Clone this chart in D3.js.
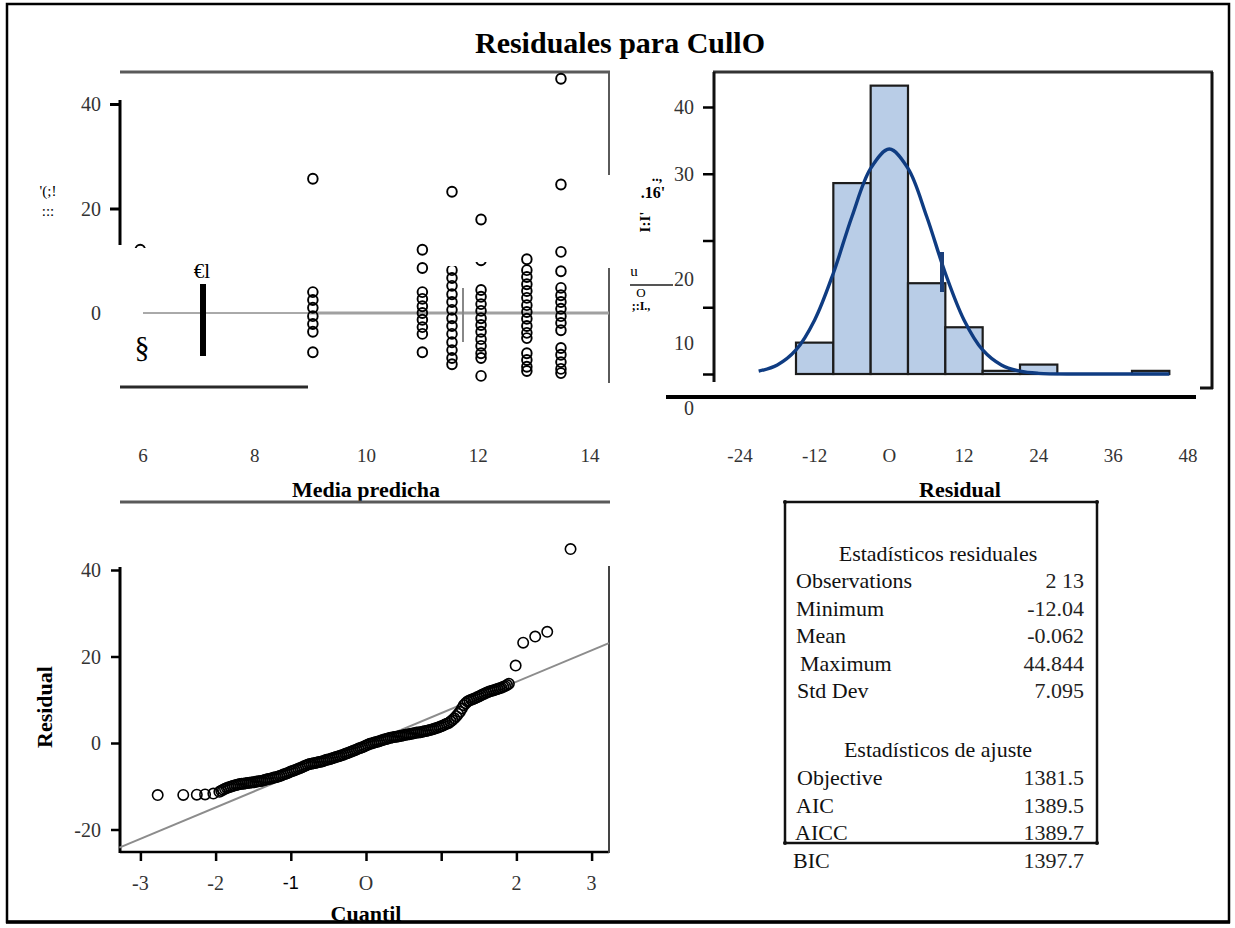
<!DOCTYPE html>
<html>
<head>
<meta charset="utf-8">
<script src="https://cdn.jsdelivr.net/npm/d3@7"></script>
<style>
  html, body { margin: 0; padding: 0; background: #fff; }
  svg { display: block; font-family: "Liberation Serif", "Times New Roman", serif; }
</style>
</head>
<body>
<svg id="chart" width="1235" height="928"></svg>
<script>
// ---------------- data ----------------
const chartTitle = "Residuales para CullO";

// Residual vs predicted mean: one predicted mean per column of points
const predictedMeans = [5.95, 9.04, 11.0, 11.53, 12.05, 12.87, 13.48];
const residualsByMean = [
  [12.1],
  [25.7, 4.0, 2.5, 1.0, -0.6, -2.1, -3.6, -7.5],
  [12.1, 8.6, 4.0, 2.7, 1.3, 0.0, -1.3, -2.7, -4.0, -7.5],
  [23.2, 8.2, 6.7, 5.2, 3.6, 2.1, 0.6, -1.0, -2.5, -4.0, -5.6, -7.1, -8.6, -9.8],
  [17.9, 10.1, 4.4, 3.1, 1.7, 0.4, -1.0, -2.3, -3.6, -5.0, -6.3, -7.7, -8.6, -12.04],
  [10.3, 8.2, 6.9, 5.5, 4.2, 2.9, 1.5, 0.2, -1.1, -2.5, -3.8, -4.8, -7.7, -9.0, -10.3, -11.1],
  [44.844, 24.6, 11.7, 8.0, 4.8, 3.4, 2.1, 0.8, -0.6, -1.9, -3.3, -6.7, -8.0, -9.4, -10.7, -11.5]
];
const scatterXTicks = [6, 8, 10, 12, 14];
const scatterYTicks = [40, 20, 0];

// Histogram of residuals (percent per bin of width 6)
const binStart = [-15, -9, -3, 3, 9, 15, 21, 27, 33, 39];
const binWidth = 6;
const binPercent = [4.7, 28.6, 43.2, 13.6, 7.0, 0.47, 1.41, 0, 0, 0.47];
const histXTicks = [-24, -12, 0, 12, 24, 36, 48];
const histXTickLabels = ["-24", "-12", "O", "12", "24", "36", "48"];
const histYTicks = [40, 30, 20, 10, 0];
// Fitted normal density overlay (percent)
const densityX = [-21, -18, -15, -12, -9, -6, -3, 0, 3, 6, 9, 12, 15, 18, 21, 24, 30, 36, 42, 45];
const densityY = [0.42, 1.35, 3.6, 8.1, 15.1, 23.6, 30.8, 33.7, 30.8, 23.6, 15.1, 8.1, 3.6, 1.35, 0.42, 0.1, 0, 0, 0, 0];

// Normal quantile plot: (normal quantile, residual) pairs
const qqQuantile = [
  -2.77, -2.43, -2.25, -2.14, -2.03,
  -1.95, -1.90, -1.85, -1.80, -1.75, -1.70, -1.65, -1.60, -1.55, -1.50,
  -1.45, -1.40, -1.35, -1.30, -1.25, -1.20, -1.15, -1.10, -1.05, -1.00,
  -0.95, -0.90, -0.85, -0.80, -0.75, -0.70, -0.65, -0.60, -0.55, -0.50,
  -0.45, -0.40, -0.35, -0.30, -0.25, -0.20, -0.15, -0.10, -0.05, 0.00,
  0.05, 0.10, 0.15, 0.20, 0.25, 0.30, 0.35, 0.40, 0.45, 0.50,
  0.55, 0.60, 0.65, 0.70, 0.75, 0.80, 0.85, 0.90, 0.95, 1.00,
  1.05, 1.10, 1.15, 1.20, 1.25, 1.30, 1.35, 1.40, 1.45, 1.50,
  1.55, 1.60, 1.65, 1.70, 1.75, 1.80, 1.85, 1.90,
  1.99, 2.09, 2.25, 2.41, 2.72,
  // denser middle of the band
  -1.925, -1.875, -1.825, -1.775, -1.725, -1.675, -1.625, -1.575, -1.525, -1.475,
  -1.425, -1.375, -1.325, -1.275, -1.225, -1.175, -1.125, -1.075, -1.025, -0.975,
  -0.925, -0.875, -0.825, -0.775, -0.725, -0.675, -0.625, -0.575, -0.525, -0.475,
  -0.425, -0.375, -0.325, -0.275, -0.225, -0.175, -0.125, -0.075, -0.025, 0.025,
  0.075, 0.125, 0.175, 0.225, 0.275, 0.325, 0.375, 0.425, 0.475, 0.525,
  0.575, 0.625, 0.675, 0.725, 0.775, 0.825, 0.875, 0.925, 0.975, 1.025,
  1.075, 1.125, 1.175, 1.225, 1.275, 1.325, 1.375, 1.425, 1.475, 1.525,
  1.575, 1.625, 1.675, 1.725, 1.775, 1.825, 1.875
];
const qqResidual = [
  -12.04, -12.0, -11.95, -11.9, -11.7,
  -11.3, -10.8, -10.4, -10.1, -9.85, -9.6, -9.45, -9.3, -9.2, -9.1,
  -8.9, -8.8, -8.55, -8.35, -8.15, -7.9, -7.65, -7.3, -7.0, -6.6,
  -6.3, -5.95, -5.6, -5.2, -4.85, -4.7, -4.5, -4.35, -4.05, -3.8,
  -3.55, -3.25, -3.0, -2.7, -2.35, -2.05, -1.65, -1.3, -1.0, -0.6,
  -0.2, 0.05, 0.3, 0.55, 0.85, 1.1, 1.3, 1.45, 1.6, 1.8,
  1.95, 2.15, 2.3, 2.45, 2.6, 2.8, 3.0, 3.25, 3.55, 3.85,
  4.25, 4.65, 5.3, 6.2, 7.2, 8.75, 9.6, 10.0, 10.35, 10.75,
  11.2, 11.6, 11.95, 12.2, 12.5, 12.8, 13.15, 13.7,
  17.9, 23.2, 24.6, 25.7, 44.844,
  -11.05, -10.6, -10.25, -9.95, -9.7, -9.5, -9.4, -9.25, -9.15, -9.0,
  -8.85, -8.7, -8.45, -8.25, -8.0, -7.8, -7.5, -7.15, -6.8, -6.45,
  -6.1, -5.8, -5.4, -5.0, -4.8, -4.6, -4.4, -4.2, -3.9, -3.7,
  -3.4, -3.1, -2.85, -2.5, -2.2, -1.85, -1.5, -1.15, -0.8, -0.4,
  -0.1, 0.2, 0.4, 0.7, 0.95, 1.2, 1.4, 1.5, 1.7, 1.9,
  2.05, 2.2, 2.4, 2.5, 2.7, 2.9, 3.1, 3.4, 3.7, 4.05,
  4.45, 4.95, 5.7, 6.7, 8.0, 9.2, 9.8, 10.2, 10.55, 11.0,
  11.4, 11.8, 12.1, 12.35, 12.65, 13.0, 13.4
];
const qqRefQuantile = [-3.28, 3.23];
const qqRefResidual = [-24.2, 23.1];
const qqXTicks = [-3, -2, -1, 0, 1, 2, 3];
const qqXTickLabels = ["-3", "-2", "-1", "O", "", "2", "3"];
const qqYTicks = [40, 20, 0, -20];

// Summary table
const residualStatNames = ["Observations", "Minimum", "Mean", "Maximum", "Std Dev"];
const residualStatValues = ["2 13", "-12.04", "-0.062", "44.844", "7.095"];
const fitStatNames = ["Objective", "AIC", "AICC", "BIC"];
const fitStatValues = ["1381.5", "1389.5", "1389.7", "1397.7"];

// ---------------- drawing ----------------
const svg = d3.select("#chart");
const ink = "#000";
const tickInk = "#333";

function line(g, x1, y1, x2, y2, color, w) {
  return g.append("line").attr("x1", x1).attr("y1", y1).attr("x2", x2).attr("y2", y2)
    .attr("stroke", color).attr("stroke-width", w);
}
function txt(g, x, y, s, opts = {}) {
  const t = g.append("text").attr("x", x).attr("y", y).text(s)
    .attr("font-size", opts.size || 18)
    .attr("fill", opts.fill || tickInk)
    .attr("text-anchor", opts.anchor || "start");
  if (opts.weight) t.attr("font-weight", opts.weight);
  if (opts.family) t.attr("font-family", opts.family);
  if (opts.rotate) t.attr("transform", `rotate(${opts.rotate},${x},${y})`);
  return t;
}

// Title
txt(svg, 620, 53, chartTitle, { size: 30, weight: "bold", fill: "#000", anchor: "middle" });

// ===== Residual vs predicted mean =====
const sp = svg.append("g");
const sx = d3.scaleLinear().domain([6, 14]).range([143, 590]);
const sy = d3.scaleLinear().domain([0, 40]).range([313, 104]);

// panel frame pieces
line(sp, 120, 72, 610, 72, "#5a5a5a", 3);
line(sp, 609, 72, 609, 175, "#5a5a5a", 2);
line(sp, 609, 268, 609, 383, "#5a5a5a", 2);
line(sp, 120, 387, 308, 387, "#2a2a2a", 3);
line(sp, 120, 100, 120, 245, ink, 3);

// y axis ticks
const syAxis = sp.append("g").attr("transform", "translate(120,0)")
  .call(d3.axisLeft(sy).tickValues([40, 20]).tickSize(10).tickFormat(""));
syAxis.select(".domain").remove();
syAxis.selectAll(".tick line").attr("stroke", ink).attr("stroke-width", 3);
scatterYTicks.forEach(v => txt(sp, 101, sy(v) + 7, String(v), { size: 20, anchor: "end" }));

// x tick labels
scatterXTicks.forEach(v => txt(sp, sx(v), 462, String(v), { size: 19, anchor: "middle" }));
txt(sp, 366, 497, "Media predicha", { size: 22, weight: "bold", fill: "#000", anchor: "middle" });

// zero reference
line(sp, 143, sy(0), 310, sy(0), "#555", 1);
line(sp, 310, sy(0), 609, sy(0), "#a0a0a0", 3);

// stray marks
txt(sp, 48, 196, "'(;!", { size: 15, fill: "#000", anchor: "middle" });
txt(sp, 48, 216, ":::", { size: 15, fill: "#000", anchor: "middle" });
txt(sp, 142, 357, "§", { size: 30, fill: "#000", anchor: "middle" });
txt(sp, 202, 278, "€l", { size: 21, fill: "#000", anchor: "middle" });
sp.append("rect").attr("x", 200).attr("y", 284).attr("width", 6).attr("height", 72).attr("fill", "#000");
line(sp, 463, 288, 463, 342, "#888", 2);

// points
const scatterPts = [];
predictedMeans.forEach((m, i) => residualsByMean[i].forEach(r => scatterPts.push([m, r])));
sp.append("g").selectAll("ellipse").data(scatterPts).join("ellipse")
  .attr("cx", d => sx(d[0])).attr("cy", d => sy(d[1]))
  .attr("rx", 4.8).attr("ry", 5)
  .attr("fill", "none").attr("stroke", "#000").attr("stroke-width", 1.9);
// partially hidden marks
sp.append("rect").attr("x", 125).attr("y", 248).attr("width", 40).attr("height", 16).attr("fill", "#fff");
sp.append("rect").attr("x", 444).attr("y", 238).attr("width", 18).attr("height", 28).attr("fill", "#fff");
sp.append("rect").attr("x", 472).attr("y", 238).attr("width", 18).attr("height", 24).attr("fill", "#fff");

// ===== Histogram =====
const hp = svg.append("g");
const hx = d3.scaleLinear().domain([-24, 48]).range([740, 1188]);
const hy = d3.scaleLinear().domain([0, 40]).range([374, 107]);

line(hp, 713, 72, 1213, 72, "#333", 3);
line(hp, 714, 72, 714, 382, "#111", 3);
line(hp, 1212, 72, 1212, 389, "#111", 3);
line(hp, 1200, 388, 1213, 388, "#111", 3);
line(hp, 666, 397, 1196, 397, "#000", 4);

const hyAxis = hp.append("g").attr("transform", "translate(714,0)")
  .call(d3.axisLeft(hy).tickValues(histYTicks).tickSize(11).tickFormat(""));
hyAxis.select(".domain").remove();
hyAxis.selectAll(".tick line").attr("stroke", ink).attr("stroke-width", 2.5);
const histYLabelShift = [0, 0, 38, 36, 34];
histYTicks.forEach((v, i) => txt(hp, 694, hy(v) + 7 + histYLabelShift[i], String(v), { size: 20, anchor: "end" }));

histXTicks.forEach((v, i) => txt(hp, hx(v), 462, histXTickLabels[i], { size: 19, anchor: "middle" }));
txt(hp, 960, 497, "Residual", { size: 22, weight: "bold", fill: "#000", anchor: "middle" });

// stray marks beside the count axis
txt(hp, 657, 181, "..,", { size: 14, weight: "bold", fill: "#000", anchor: "middle" });
txt(hp, 653, 198, ".16'", { size: 16, weight: "bold", fill: "#000", anchor: "middle" });
txt(hp, 650, 222, "I:I'", { size: 15, weight: "bold", fill: "#000", anchor: "middle", rotate: -90 });
txt(hp, 634, 276, "u", { size: 15, fill: "#000", anchor: "middle" });
line(hp, 630, 285, 673, 285, "#555", 2);
txt(hp, 641, 297, "O", { size: 13, fill: "#000", anchor: "middle" });
txt(hp, 641, 310, ";:I.,", { size: 12, weight: "bold", fill: "#000", anchor: "middle" });

const bins = binStart.map((b, i) => ({ b, p: binPercent[i] })).filter(d => d.p > 0);
hp.append("g").selectAll("rect").data(bins).join("rect")
  .attr("x", d => hx(d.b)).attr("width", d => hx(d.b + binWidth) - hx(d.b))
  .attr("y", d => hy(d.p)).attr("height", d => hy(0) - hy(d.p))
  .attr("fill", "#b9cde7").attr("stroke", "#1c1c1c").attr("stroke-width", 2.2);

const dens = densityX.map((x, i) => [x, densityY[i]]);
hp.append("path").datum(dens)
  .attr("d", d3.line().x(d => hx(d[0])).y(d => hy(d[1])).curve(d3.curveCatmullRom))
  .attr("fill", "none").attr("stroke", "#0f3c82").attr("stroke-width", 3.4);
hp.append("rect").attr("x", 940).attr("y", 252).attr("width", 4).attr("height", 40).attr("fill", "#1b3f7a");

// ===== Normal quantile plot =====
const qp = svg.append("g");
const qx = d3.scaleLinear().domain([-3, 3]).range([140.4, 591.6]);
const qy = d3.scaleLinear().domain([-20, 40]).range([829.5, 570]);

line(qp, 120, 502, 610, 502, "#5a5a5a", 3);
line(qp, 120, 567, 120, 853, ink, 3);
line(qp, 120, 852, 609, 852, ink, 2.5);
line(qp, 609, 566, 609, 853, "#444", 2);

const qyAxis = qp.append("g").attr("transform", "translate(120,0)")
  .call(d3.axisLeft(qy).tickValues(qqYTicks).tickSize(9).tickFormat(""));
qyAxis.select(".domain").remove();
qyAxis.selectAll(".tick line").attr("stroke", ink).attr("stroke-width", 2.5);
qqYTicks.forEach(v => txt(qp, 101, qy(v) + 7, String(v), { size: 20, anchor: "end" }));

const qxAxis = qp.append("g").attr("transform", "translate(0,852)")
  .call(d3.axisBottom(qx).tickValues(qqXTicks).tickSize(9).tickFormat(""));
qxAxis.select(".domain").remove();
qxAxis.selectAll(".tick line").attr("stroke", ink).attr("stroke-width", 2.5);
qqXTicks.forEach((v, i) => {
  const lab = qqXTickLabels[i];
  if (!lab) return;
  if (lab === "-1") txt(qp, qx(v), 889, lab, { size: 18, anchor: "middle", family: "Liberation Sans, Arial, sans-serif", fill: "#000" });
  else txt(qp, qx(v), 890, lab, { size: 20, anchor: "middle" });
});
txt(qp, 366, 921, "Cuantil", { size: 22, weight: "bold", fill: "#000", anchor: "middle" });
txt(qp, 52, 707, "Residual", { size: 22, weight: "bold", fill: "#000", anchor: "middle", rotate: -90 });

qp.append("line")
  .attr("x1", qx(qqRefQuantile[0])).attr("y1", qy(qqRefResidual[0]))
  .attr("x2", qx(qqRefQuantile[1])).attr("y2", qy(qqRefResidual[1]))
  .attr("stroke", "#8c8c8c").attr("stroke-width", 2);

const qqPts = qqQuantile.map((q, i) => [q, qqResidual[i]]);
qp.append("g").selectAll("circle").data(qqPts).join("circle")
  .attr("cx", d => qx(d[0])).attr("cy", d => qy(d[1])).attr("r", 5.2)
  .attr("fill", "none").attr("stroke", "#000").attr("stroke-width", 1.6);

// ===== Summary table =====
const tb = svg.append("g");
tb.append("rect").attr("x", 785).attr("y", 502).attr("width", 312).attr("height", 341)
  .attr("fill", "none").attr("stroke", "#111").attr("stroke-width", 2.5);
[[785, 502], [1097, 502], [785, 843], [1097, 843]].forEach(p =>
  tb.append("circle").attr("cx", p[0]).attr("cy", p[1]).attr("r", 2).attr("fill", "#111"));

const tFont = 22;
txt(tb, 938, 561, "Estadísticos residuales", { size: tFont, fill: "#111", anchor: "middle" });
const resNameX = [796, 796, 796, 800, 797];
residualStatNames.forEach((n, i) => {
  const y = 588 + i * 27.6;
  txt(tb, resNameX[i], y, n, { size: tFont, fill: "#111" });
  txt(tb, 1084, y, residualStatValues[i], { size: tFont, fill: "#222", anchor: "end" });
});
txt(tb, 938, 757, "Estadísticos de ajuste", { size: tFont, fill: "#111", anchor: "middle" });
const fitNameX = [797, 796, 795, 793];
fitStatNames.forEach((n, i) => {
  const y = 785 + i * 27.6;
  txt(tb, fitNameX[i], y, n, { size: tFont, fill: "#111" });
  txt(tb, 1084, y, fitStatValues[i], { size: tFont, fill: "#222", anchor: "end" });
});

// Outer frame
svg.append("rect").attr("x", 7).attr("y", 4).attr("width", 1222).attr("height", 918)
  .attr("fill", "none").attr("stroke", "#000").attr("stroke-width", 2.5);
line(svg, 6, 922, 1230, 922, "#000", 3.5);
</script>
</body>
</html>
